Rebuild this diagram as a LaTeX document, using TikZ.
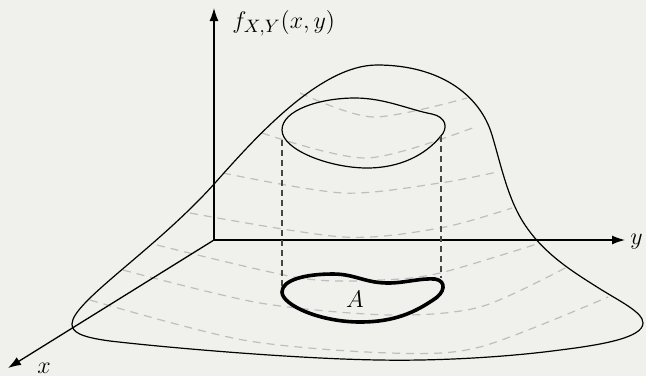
\documentclass[tikz,border=0pt]{standalone}
\usetikzlibrary{arrows.meta}
\definecolor{bgcol}{RGB}{240,241,236}
\definecolor{levelcol}{RGB}{190,190,188}
\definecolor{dropcol}{RGB}{70,70,70}
\begin{document}
\begin{tikzpicture}[x=0.5pt,y=-0.5pt,
  axis/.style={line width=0.65pt,-{Latex[length=6.5pt,width=4.5pt]}},
  surface/.style={line width=0.6pt},
  levelline/.style={levelcol,line width=0.6pt,dash pattern=on 4pt off 3pt},
  dropline/.style={dropcol,line width=0.6pt,dash pattern=on 3pt off 2pt},
  region/.style={line width=1.8pt},
  lbl/.style={inner sep=0pt,font=\fontsize{12.5}{15}\selectfont}]
\fill[bgcol] (0,0) rectangle (646,376);
\useasboundingbox (0,0) rectangle (646,376);

% contour (level) lines
\draw[levelline] plot[smooth] coordinates {(300,93) (373,117) (467,98)};
\draw[levelline] plot[smooth] coordinates {(262,133) (367,158) (475,127)};
\draw[levelline] plot[smooth] coordinates {(223,173) (343,193) (440,183) (497,172)};
\draw[levelline] plot[smooth] coordinates {(190,213) (343,237) (440,228) (512,208)};
\draw[levelline] plot[smooth] coordinates {(157,245) (300,278) (380,280) (440,273) (540,243)};
\draw[levelline] plot[smooth] coordinates {(123,270) (260,303) (390,315) (480,307) (565,268)};
\draw[levelline] plot[smooth] coordinates {(90,300) (243,340) (390,353) (480,347) (608,297)};

% axes
\coordinate (O) at (214,240);
\coordinate (ztip) at (214,8);
\coordinate (ytip) at (625,240);
\coordinate (xtip) at (8,368);
\draw[axis] (O) -- (ztip);
\draw[axis] (O) -- (ytip);
\draw[axis] (O) -- (xtip);
\node[lbl,anchor=base west] (zlabel) at (232,28) {$f_{X,Y}(x,y)$};
\node[lbl,anchor=base west] (ylabel) at (630,244) {$y$};
\node[lbl,anchor=base west] (xlabel) at (37,373) {$x$};

% surface outline
\draw[surface] (72,324) .. controls (72,302) and (155,250) .. (215,183)
  .. controls (255,138) and (320,65) .. (377,65)
  .. controls (440,65) and (480,95) .. (492,135)
  .. controls (501,165) and (508,200) .. (525,225)
  .. controls (545,255) and (575,273) .. (597,287)
  .. controls (619,301) and (643,312) .. (643,323)
  .. controls (643,338) and (600,345) .. (560,350)
  .. controls (500,358) and (430,361) .. (380,360)
  .. controls (300,359) and (170,348) .. (110,341)
  .. controls (80,337) and (72,332) .. cycle;

% region on the surface
\draw[surface] (282,130) .. controls (282,110) and (320,98) .. (355,98)
  .. controls (385,98) and (410,110) .. (432,114)
  .. controls (446,117) and (449,128) .. (440,137)
  .. controls (425,155) and (400,168) .. (367,168)
  .. controls (330,168) and (282,150) .. cycle;

% projection lines
\coordinate (dl1) at (282,140);
\coordinate (dl2) at (282,288);
\coordinate (dr1) at (441,136);
\coordinate (dr2) at (441,278);
\draw[dropline] (dl1) -- (dl2);
\draw[dropline] (dr1) -- (dr2);

% region A
\draw[region] (282,292) .. controls (282,280) and (305,274) .. (333,274)
  .. controls (355,274) and (365,283) .. (388,283)
  .. controls (405,283) and (420,278) .. (435,279)
  .. controls (447,281) and (445,293) .. (433,300)
  .. controls (415,312) and (395,322) .. (360,322)
  .. controls (320,322) and (282,305) .. cycle;
\node[lbl,anchor=base] (Alabel) at (355,307) {$A$};
\end{tikzpicture}
\end{document}
